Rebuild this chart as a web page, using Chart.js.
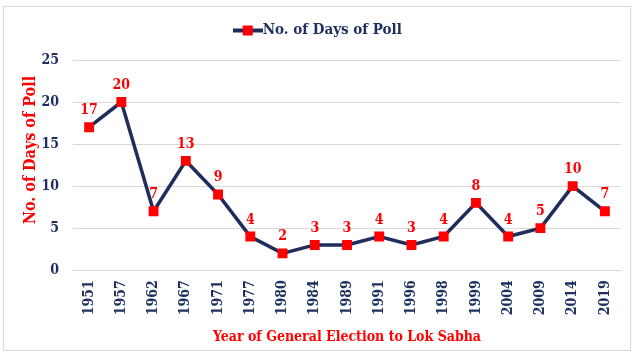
<!DOCTYPE html>
<html>
<head>
<meta charset="utf-8">
<script src="https://cdn.jsdelivr.net/npm/chart.js@4"></script>
<style>
  html, body { margin: 0; padding: 0; background: #fff; }
  #wrap { position: absolute; left: 3px; top: 6px; width: 628px; height: 345px; border: 1px solid #d9d9d9; box-sizing: border-box; }
  #c { position: absolute; left: 0; top: 0; }
</style>
</head>
<body>
<div id="wrap"></div>
<canvas id="c" width="637" height="357"></canvas>
<script>
const years = ["1951","1957","1962","1967","1971","1977","1980","1984","1989","1991","1996","1998","1999","2004","2009","2014","2019"];
const daysOfPoll = [17,20,7,13,9,4,2,3,3,4,3,4,8,4,5,10,7];
const yTicks = [0,5,10,15,20,25];
const seriesName = "No. of Days of Poll";
const xTitle = "Year of General Election to Lok Sabha";
const yTitle = "No. of Days of Poll";

const NAVY = "#1f2d5c";
const TEXT_NAVY = "#1f3060";
const RED = "#ff0000";
const FONT = "'DejaVu Serif Condensed', 'Liberation Serif', serif";

// legend symbol: line with square marker
const sym = document.createElement('canvas');
sym.width = 30; sym.height = 12;
(function(){
  const g = sym.getContext('2d');
  g.fillStyle = NAVY;
  g.fillRect(0, 4, 30, 4);
  g.fillStyle = RED;
  g.fillRect(10, 1, 10, 10);
})();

const dataLabels = {
  id: 'dataLabels',
  afterDatasetsDraw(chart) {
    const ctx = chart.ctx;
    const meta = chart.getDatasetMeta(0);
    ctx.save();
    ctx.fillStyle = RED;
    ctx.font = "bold 14px " + FONT;
    ctx.textAlign = 'center';
    ctx.textBaseline = 'alphabetic';
    meta.data.forEach((pt, i) => {
      ctx.fillText(String(daysOfPoll[i]), pt.x, pt.y - 13);
    });
    ctx.restore();
  }
};

const legendGap = {
  id: 'legendGap',
  afterInit(chart) {
    const lg = chart.legend;
    if (!lg) return;
    const orig = lg.fit;
    lg.fit = function() { orig.call(this); this.height += 12; };
  }
};

new Chart(document.getElementById('c'), {
  type: 'line',
  data: {
    labels: years,
    datasets: [{
      label: seriesName,
      data: daysOfPoll,
      borderColor: NAVY,
      backgroundColor: RED,
      borderWidth: 3.5,
      pointStyle: 'rect',
      pointRadius: 7,
      pointHoverRadius: 7,
      pointBackgroundColor: RED,
      pointBorderColor: RED,
      pointBorderWidth: 0,
      tension: 0
    }]
  },
  options: {
    responsive: false,
    animation: false,
    devicePixelRatio: 1,
    layout: { padding: { left: 21, right: 16, top: 13, bottom: 11 } },
    plugins: {
      legend: {
        position: 'top',
        labels: {
          usePointStyle: true,
          color: TEXT_NAVY,
          font: { family: FONT, size: 15, weight: 'bold' },
          padding: 10,
          generateLabels(chart) {
            return [{ text: seriesName, pointStyle: sym, fillStyle: RED, strokeStyle: NAVY, lineWidth: 0, datasetIndex: 0, fontColor: TEXT_NAVY }];
          }
        }
      },
      tooltip: { enabled: false }
    },
    scales: {
      x: {
        offset: true,
        grid: { display: false },
        border: { display: true, color: '#d9d9d9' },
        ticks: {
          color: TEXT_NAVY,
          font: { family: FONT, size: 14, weight: 'bold' },
          maxRotation: 90, minRotation: 90,
          autoSkip: false,
          padding: 2
        },
        title: {
          display: true, text: xTitle, color: RED,
          font: { family: FONT, size: 14, weight: 'bold' },
          padding: { top: 12, bottom: 0 }
        }
      },
      y: {
        min: 0, max: 25,
        afterBuildTicks(axis) { axis.ticks = yTicks.map(v => ({ value: v })); },
        afterFit(axis) { axis.width = 52; },
        grid: { color: '#d9d9d9', drawTicks: false },
        border: { display: false },
        ticks: {
          color: TEXT_NAVY,
          font: { family: FONT, size: 14, weight: 'bold' },
          padding: 14
        },
        title: {
          display: true, text: "      " + yTitle, color: RED,
          font: { family: FONT, size: 16, weight: 'bold' },
          padding: { top: 0, bottom: 0 }
        }
      }
    }
  },
  plugins: [dataLabels, legendGap]
});
</script>
</body>
</html>
